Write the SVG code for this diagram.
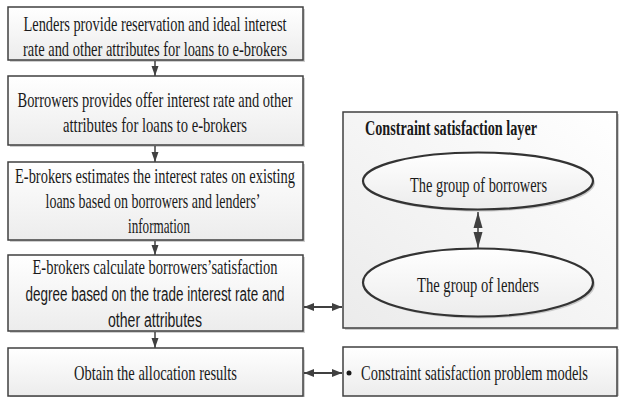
<svg xmlns="http://www.w3.org/2000/svg" width="621" height="399" viewBox="0 0 621 399">
<defs>
<linearGradient id="gBox" x1="0" y1="0" x2="0" y2="1">
<stop offset="0" stop-color="#ffffff"/>
<stop offset="1" stop-color="#ececec"/>
</linearGradient>
<linearGradient id="gLayer" x1="1" y1="0" x2="0" y2="1">
<stop offset="0" stop-color="#ffffff"/>
<stop offset="1" stop-color="#ebebeb"/>
</linearGradient>
<marker id="ah" markerUnits="userSpaceOnUse" markerWidth="10" markerHeight="10" viewBox="0 0 10 10" refX="10" refY="5" orient="auto">
<path d="M0,1.5 L10,5 L0,8.5 Z" fill="#404040"/>
</marker>
<marker id="ahs" markerUnits="userSpaceOnUse" markerWidth="10" markerHeight="10" viewBox="0 0 10 10" refX="10" refY="5" orient="auto-start-reverse">
<path d="M0,1 L10,5 L0,9 Z" fill="#404040"/>
</marker>
<marker id="dm" markerUnits="userSpaceOnUse" markerWidth="16" markerHeight="10" viewBox="0 0 16 10" refX="16" refY="5" orient="auto-start-reverse">
<path d="M0,0.5 L16,5 L0,9.5 Z" fill="#404040"/>
</marker>
</defs>
<style>
.box{fill:url(#gBox);stroke:#404040;stroke-width:1.5}
.shadow{fill:#cfcfcf}
.layer{fill:url(#gLayer);stroke:#404040;stroke-width:1.5}
.ell{fill:url(#gBox);stroke:#333333;stroke-width:2.2}
.t{font-family:"Liberation Serif","Times New Roman",serif;font-size:22px;fill:#1a1a1a;text-anchor:middle}
.s{font-family:"Liberation Sans",Arial,sans-serif;font-size:20px;fill:#1a1a1a;text-anchor:middle}
.b{font-family:"Liberation Serif","Times New Roman",serif;font-size:20px;font-weight:bold;fill:#1a1a1a}
.tl{font-family:"Liberation Serif","Times New Roman",serif;font-size:22px;fill:#1a1a1a}
.c{stroke:#404040;stroke-width:1.5;fill:none}
.c2{stroke:#404040;stroke-width:2.2;fill:none}
</style>

<g id="node1">
<rect class="shadow" x="10" y="9" width="295" height="53"/>
<rect class="box" x="8" y="7" width="295" height="53"/>
<text class="t" x="155" y="31" textLength="263" lengthAdjust="spacingAndGlyphs">Lenders provide reservation and ideal interest</text>
<text class="t" x="155" y="56" textLength="264" lengthAdjust="spacingAndGlyphs">rate and other attributes for loans to e-brokers</text>
</g>

<g id="node2">
<rect class="shadow" x="10" y="78" width="295" height="69"/>
<rect class="box" x="8" y="76" width="295" height="69"/>
<text class="t" x="155" y="107" textLength="275" lengthAdjust="spacingAndGlyphs">Borrowers provides offer interest rate and other</text>
<text class="t" x="155" y="132" textLength="184" lengthAdjust="spacingAndGlyphs">attributes for loans to e-brokers</text>
</g>

<g id="node3">
<rect class="shadow" x="10" y="164" width="295" height="78"/>
<rect class="box" x="8" y="162" width="295" height="78"/>
<text class="t" x="155" y="183" textLength="280" lengthAdjust="spacingAndGlyphs">E-brokers estimates the interest rates on existing</text>
<text class="t" x="153" y="208" textLength="215" lengthAdjust="spacingAndGlyphs">loans based on borrowers and lenders’</text>
<text class="t" x="159" y="233" textLength="62" lengthAdjust="spacingAndGlyphs">information</text>
</g>

<g id="node4">
<rect class="shadow" x="10" y="257" width="295" height="76"/>
<rect class="box" x="8" y="255" width="295" height="76"/>
<text class="t" x="155" y="274" textLength="245" lengthAdjust="spacingAndGlyphs">E-brokers calculate borrowers’satisfaction</text>
<text class="s" x="155" y="301" textLength="259" lengthAdjust="spacingAndGlyphs">degree based on the trade interest rate and</text>
<text class="s" x="155" y="327" textLength="94" lengthAdjust="spacingAndGlyphs">other attributes</text>
</g>

<g id="node5">
<rect class="shadow" x="10" y="350" width="295" height="47"/>
<rect class="box" x="8" y="348" width="295" height="48"/>
<text class="t" x="155.5" y="380" textLength="163" lengthAdjust="spacingAndGlyphs">Obtain the allocation results</text>
</g>

<g id="layer">
<rect class="shadow" x="345" y="114" width="274" height="216"/>
<rect class="layer" x="343" y="112" width="274" height="216"/>
<text class="b" x="365" y="135" textLength="172" lengthAdjust="spacingAndGlyphs">Constraint satisfaction layer</text>
</g>

<g id="borrowers">
<ellipse cx="480" cy="183" rx="115" ry="28.5" fill="#c8c8c8"/>
<ellipse class="ell" cx="478" cy="181" rx="115" ry="28.5"/>
<text class="t" x="478.5" y="192" textLength="137" lengthAdjust="spacingAndGlyphs">The group of borrowers</text>
</g>

<g id="lenders">
<ellipse cx="480" cy="284.5" rx="115" ry="34" fill="#c8c8c8"/>
<ellipse class="ell" cx="478" cy="282.5" rx="115" ry="34"/>
<text class="t" x="478" y="292" textLength="122" lengthAdjust="spacingAndGlyphs">The group of lenders</text>
</g>

<g id="models">
<rect class="shadow" x="345" y="349" width="274" height="47"/>
<rect class="box" x="343" y="347" width="274" height="49"/>
<circle cx="349" cy="373" r="2.5" fill="#1a1a1a"/>
<text class="tl" transform="translate(361,380) scale(0.6676,1)" x="0" y="0" textLength="340" lengthAdjust="spacingAndGlyphs">Constraint satisfaction problem models</text>
</g>

<g id="connectors">
<line class="c" x1="155" y1="61" x2="155" y2="76" marker-end="url(#ah)"/>
<line class="c" x1="155" y1="146" x2="155" y2="162" marker-end="url(#ah)"/>
<line class="c" x1="155" y1="241" x2="155" y2="255" marker-end="url(#ah)"/>
<line class="c" x1="155" y1="332" x2="155" y2="348" marker-end="url(#ah)"/>
<line class="c2" x1="304" y1="307" x2="342" y2="307" marker-start="url(#ahs)" marker-end="url(#ahs)"/>
<line class="c2" x1="304" y1="373" x2="342" y2="373" marker-start="url(#ahs)" marker-end="url(#ahs)"/>
<line class="c" x1="478" y1="212" x2="478" y2="248" marker-start="url(#dm)" marker-end="url(#dm)"/>
</g>
</svg>
